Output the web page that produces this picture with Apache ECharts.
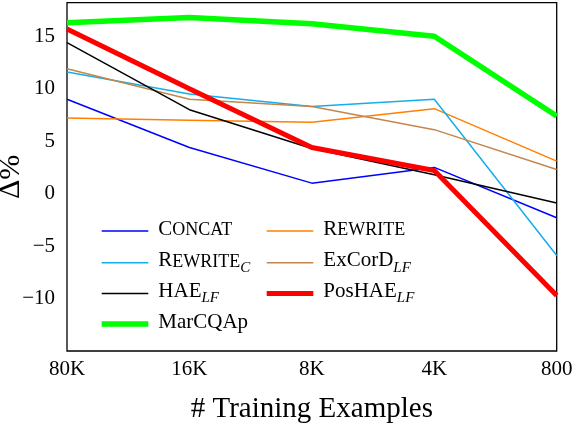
<!DOCTYPE html>
<html>
<head>
<meta charset="utf-8">
<script src="https://cdn.jsdelivr.net/npm/echarts@6/dist/echarts.min.js"></script>
<style>
html,body{margin:0;padding:0;background:#fff;}
#chart{width:574px;height:424px;}
</style>
</head>
<body>
<div id="chart"></div>
<script>
// ---- data ----
const categories = ['80K', '16K', '8K', '4K', '800'];
const seriesNames = ['CONCAT', 'REWRITE', 'REWRITE_C', 'ExCorD_LF', 'HAE_LF', 'PosHAE_LF', 'MarCQAp'];
const concat    = [9.0, 4.4, 1.0, 2.5, -2.3];
const rewrite   = [7.2, 7.0, 6.8, 8.1, 3.1];
const rewriteC  = [11.6, 9.5, 8.3, 9.0, -5.9];
const excord    = [11.9, 9.0, 8.3, 6.1, 2.3];
const hae       = [14.4, 8.0, 4.3, 1.8, -0.9];
const posHae    = [15.7, 10.0, 4.4, 2.2, -9.7];
const marcqap   = [16.3, 16.8, 16.2, 15.0, 7.4];
const legendLabels = [
  '{sp| }{c|C}{s|ONCAT}',
  '{sp| }{c|R}{s|EWRITE}',
  '{sp| }{c|R}{s|EWRITE}{sub|C}',
  '{sp| }{c|ExCorD}{sub|LF}',
  '{sp| }{c|HAE}{sub|LF}',
  '{sp| }{c|PosHAE}{sub|LF}',
  '{sp| }{c|MarCQAp}'
];
const xTitle = '# Training Examples';
const yTitle = 'Δ%';

// ---- styling ----
const values = [concat, rewrite, rewriteC, excord, hae, posHae, marcqap];
const colors = ['#0000ff', '#ff8000', '#16aee8', '#c4864c', '#000000', '#ff0000', '#00ff00'];
const widths = [1.5, 1.5, 1.5, 1.5, 1.5, 5, 5.5];
const legendWidths = [1.5, 1.5, 1.5, 1.5, 1.5, 4.8, 5.5];
const legendPos = [
  [101.7, 231.5], [266.7, 231.5],
  [101.7, 263.3], [266.7, 263.3],
  [101.7, 294], [266.7, 294],
  [101.7, 324.5]
];
const FONT = 'Liberation Serif';

const rich = {
  sp: { width: 5, fontSize: 21, fontFamily: FONT, verticalAlign: 'bottom', padding: [0, 0, 4, 0] },
  c: { fontSize: 21, fontFamily: FONT, color: '#000', verticalAlign: 'bottom', padding: [0, 0, 4, 0] },
  s: { fontSize: 18, fontFamily: FONT, color: '#000', verticalAlign: 'bottom', padding: [0, 0, 4, 0] },
  sub: { fontSize: 15, fontFamily: FONT, fontStyle: 'italic', color: '#000', verticalAlign: 'bottom', padding: [0, 0, 0, 0] }
};

const series = seriesNames.map((n, i) => ({
  name: n,
  type: 'line',
  data: values[i],
  showSymbol: false,
  symbol: 'none',
  color: colors[i],
  lineStyle: { width: widths[i], color: colors[i] },
  emphasis: { disabled: true }
}));

const legends = seriesNames.map((n, i) => ({
  data: [n],
  left: legendPos[i][0],
  top: legendPos[i][1] - 13,
  orient: 'horizontal',
  padding: 0,
  icon: 'rect',
  itemWidth: 46.6,
  itemHeight: legendWidths[i],
  selectedMode: false,
  formatter: () => legendLabels[i],
  textStyle: { rich: rich, fontFamily: FONT, fontSize: 21, color: '#000' }
}));

const chart = echarts.init(document.getElementById('chart'));
chart.setOption({
  animation: false,
  backgroundColor: '#fff',
  grid: { left: 67, right: 17.3, top: 2.7, bottom: 73, show: true, borderColor: '#000', borderWidth: 1.3, backgroundColor: 'transparent', outerBoundsMode: 'none', containLabel: false },
  legend: legends,
  xAxis: {
    type: 'category',
    data: categories,
    boundaryGap: false,
    axisLine: { show: false },
    axisTick: { show: false },
    splitLine: { show: false },
    axisLabel: { color: '#000', fontFamily: FONT, fontSize: 21, margin: 8 },
    name: xTitle,
    nameLocation: 'middle',
    nameGap: 44,
    nameMoveOverlap: false,
    nameTextStyle: { color: '#000', fontFamily: FONT, fontSize: 29 }
  },
  yAxis: {
    type: 'value',
    min: -15,
    max: 18.2,
    interval: 5,
    axisLine: { show: false },
    axisTick: { show: false },
    splitLine: { show: false },
    axisLabel: {
      color: '#000', fontFamily: FONT, fontSize: 21, margin: 12,
      showMinLabel: false, showMaxLabel: false,
      formatter: v => (v < 0 ? '\u2212' + Math.abs(v) : String(v))
    },
    name: yTitle,
    nameLocation: 'middle',
    nameGap: 41,
    nameMoveOverlap: false,
    nameTextStyle: { color: '#000', fontFamily: FONT, fontSize: 30 }
  },
  series: series
});
</script>
</body>
</html>
